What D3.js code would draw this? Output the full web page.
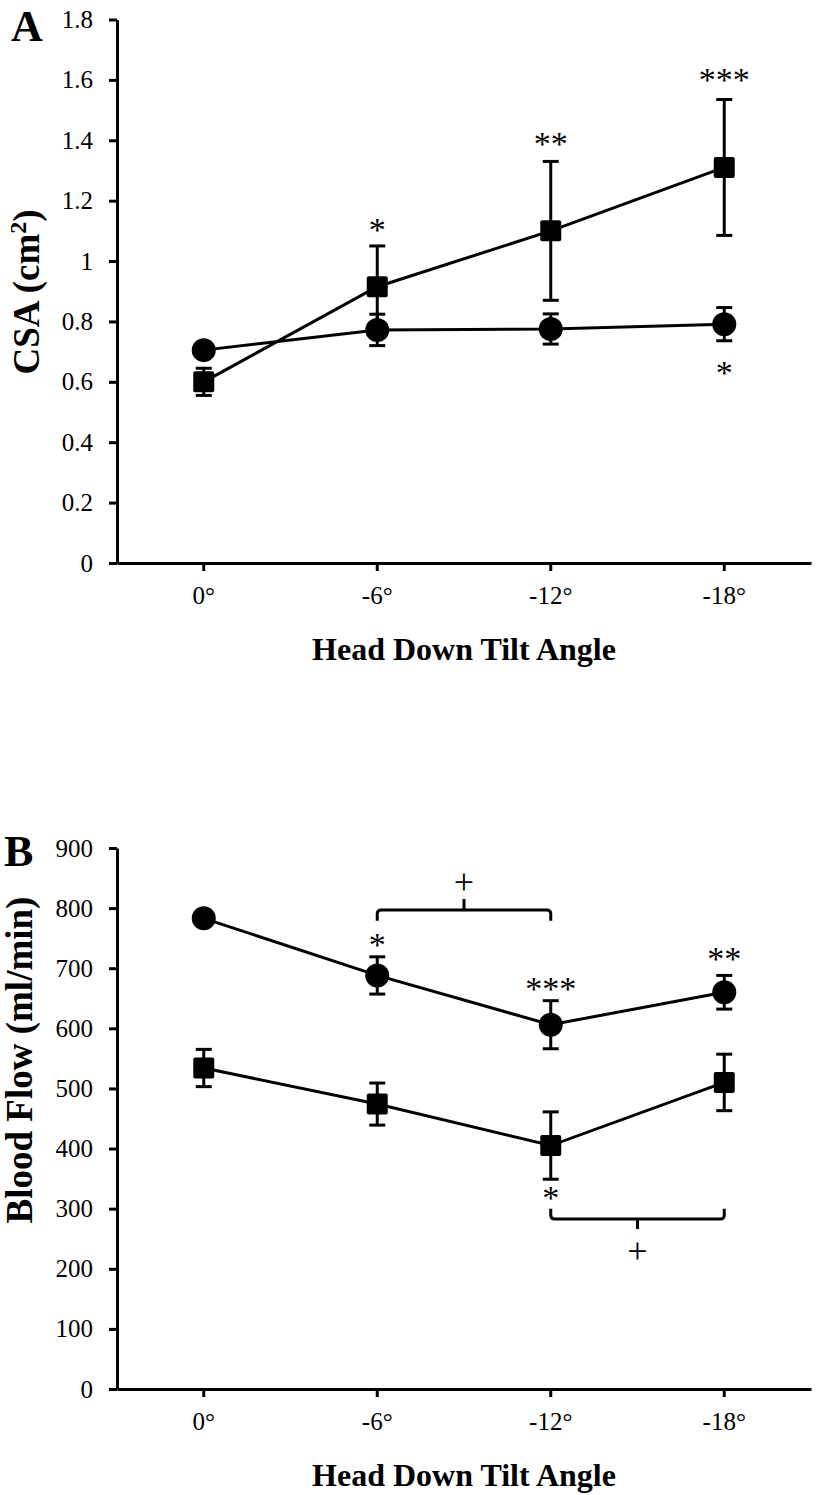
<!DOCTYPE html>
<html>
<head>
<meta charset="utf-8">
<script src="https://cdn.jsdelivr.net/npm/d3@7"></script>
<style>
  html, body { margin: 0; padding: 0; background: #fff; }
  svg { display: block; }
  text { font-family: "Liberation Serif", "Times New Roman", serif; fill: #000; }
</style>
</head>
<body>
<svg id="chart" width="817" height="1495"></svg>
<script>
// ---------------- DATA ----------------
const categories = ["0°", "-6°", "-12°", "-18°"];

// Panel A: CSA (cm²)
const csaSquare    = [0.60, 0.915, 1.10, 1.31];
const csaSquareErr = [0.045, 0.135, 0.23, 0.225];
const csaCircle    = [0.705, 0.772, 0.775, 0.791];
const csaCircleErr = [0.015, 0.052, 0.05, 0.055];
const csaTicks     = [0, 0.2, 0.4, 0.6, 0.8, 1, 1.2, 1.4, 1.6, 1.8];
const csaTickLabels = ["0", "0.2", "0.4", "0.6", "0.8", "1", "1.2", "1.4", "1.6", "1.8"];

// Panel B: Blood Flow (ml/min)
const flowCircle    = [783, 688, 606, 660];
const flowCircleErr = [8, 31, 40, 28];
const flowSquare    = [534, 474, 405, 510];
const flowSquareErr = [31, 35, 56, 47];
const flowTicks     = [0, 100, 200, 300, 400, 500, 600, 700, 800, 900];
const flowTickLabels = ["0", "100", "200", "300", "400", "500", "600", "700", "800", "900"];

// significance marks (category, value)
const csaStars  = [["-6°", 1.119, "*"], ["-12°", 1.404, "**"], ["-18°", 1.616, "***"], ["-18°", 0.646, "*"]];
const flowStars = [["-6°", 747, "*"], ["-12°", 674, "***"], ["-18°", 724, "**"], ["-12°", 326, "*"]];
// brackets: from category, to category, bar value, end value, tip value, plus value
const flowBrackets = [
  ["-6°", "-12°", 797, 779, 815, 838],
  ["-12°", "-18°", 283, 300, 266, 225]
];

// ---------------- DRAW ----------------
const svg = d3.select("#chart");

function drawPanel(cfg) {
  const g = svg.append("g");
  const x = d3.scaleBand().domain(categories).range([117, 811]).padding(0);
  const y = d3.scaleLinear().domain(cfg.domain).range(cfg.range);
  const cx = c => x(c) + x.bandwidth() / 2;

  // y axis
  const yAxis = d3.axisLeft(y).tickValues(cfg.ticks)
    .tickFormat((d, i) => cfg.tickLabels[i]).tickSize(8).tickSizeOuter(0).tickPadding(16);
  const ya = g.append("g").attr("transform", "translate(117,0)").call(yAxis);
  ya.select(".domain").attr("stroke-width", 3).attr("stroke", "#000");
  ya.selectAll(".tick line").attr("stroke-width", 3).attr("stroke", "#000");
  ya.selectAll(".tick text").attr("font-size", 25).attr("font-family", "Liberation Serif");

  // x axis
  const xAxis = d3.axisBottom(x).tickSize(8).tickSizeOuter(0).tickPadding(15);
  const xa = g.append("g").attr("transform", `translate(0,${cfg.range[0]})`).call(xAxis);
  xa.select(".domain").attr("stroke-width", 3).attr("stroke", "#000");
  xa.selectAll(".tick line").attr("stroke-width", 3).attr("stroke", "#000");
  xa.selectAll(".tick text").attr("font-size", 25).attr("font-family", "Liberation Serif");

  // titles
  g.append("text").attr("x", 464).attr("y", cfg.range[0] + 97)
    .attr("text-anchor", "middle").attr("font-size", 32).attr("font-weight", "bold")
    .text("Head Down Tilt Angle");
  const yt = g.append("text")
    .attr("transform", `translate(${cfg.yTitleX},${cfg.yTitleY}) rotate(-90)`)
    .attr("text-anchor", "middle").attr("font-size", 37).attr("font-weight", "bold");
  cfg.yTitle(yt);
  g.append("text").attr("x", cfg.letterX).attr("y", cfg.letterY)
    .attr("font-size", 44).attr("font-weight", "bold").text(cfg.letter);

  // series
  cfg.series.forEach(s => {
    const pts = categories.map((c, i) => ({ c, v: s.values[i], e: s.err[i] }));
    const eb = g.append("g").attr("stroke", "#000").attr("stroke-width", 3);
    pts.forEach(p => {
      eb.append("line").attr("x1", cx(p.c)).attr("x2", cx(p.c))
        .attr("y1", y(p.v - p.e)).attr("y2", y(p.v + p.e));
      [p.v - p.e, p.v + p.e].forEach(v => {
        eb.append("line").attr("x1", cx(p.c) - 8).attr("x2", cx(p.c) + 8)
          .attr("y1", y(v)).attr("y2", y(v));
      });
    });
    g.append("path").datum(pts)
      .attr("fill", "none").attr("stroke", "#000").attr("stroke-width", 3)
      .attr("d", d3.line().x(p => cx(p.c)).y(p => y(p.v)));
  });
  cfg.series.forEach(s => {
    const pts = categories.map((c, i) => ({ c, v: s.values[i] }));
    if (s.shape === "circle") {
      g.selectAll(null).data(pts).enter().append("circle")
        .attr("cx", p => cx(p.c)).attr("cy", p => y(p.v)).attr("r", 12).attr("fill", "#000");
    } else {
      g.selectAll(null).data(pts).enter().append("rect")
        .attr("x", p => cx(p.c) - 10.5).attr("y", p => y(p.v) - 10.5)
        .attr("width", 21).attr("height", 21).attr("rx", 2).attr("fill", "#000");
    }
  });

  // stars
  cfg.stars.forEach(([c, v, t]) => {
    g.append("text").attr("x", cx(c)).attr("y", y(v) + 16)
      .attr("text-anchor", "middle").attr("font-size", 34).text(t);
  });

  // brackets
  (cfg.brackets || []).forEach(([c1, c2, bar, end, tip, plus]) => {
    const x1 = cx(c1), x2 = cx(c2), xm = (x1 + x2) / 2;
    const yb = y(bar), ye = y(end), yt2 = y(tip);
    const dir = Math.sign(ye - yb);
    const r = 4;
    const p = d3.path();
    p.moveTo(x1, ye);
    p.lineTo(x1, yb + dir * r);
    p.quadraticCurveTo(x1, yb, x1 + r, yb);
    p.lineTo(x2 - r, yb);
    p.quadraticCurveTo(x2, yb, x2, yb + dir * r);
    p.lineTo(x2, ye);
    p.moveTo(xm, yb);
    p.lineTo(xm, yt2);
    g.append("path").attr("d", p.toString()).attr("fill", "none")
      .attr("stroke", "#000").attr("stroke-width", 3);
    g.append("text").attr("x", xm).attr("y", y(plus) + 9)
      .attr("text-anchor", "middle").attr("font-size", 36).text("+");
  });
}

drawPanel({
  domain: [0, 1.8], range: [563, 19.5],
  ticks: csaTicks, tickLabels: csaTickLabels,
  letter: "A", letterX: 11, letterY: 41,
  yTitleX: 39, yTitleY: 292,
  yTitle: t => { t.append("tspan").text("CSA (cm"); t.append("tspan").attr("font-size", 24).attr("dy", -13).text("2"); t.append("tspan").attr("dy", 13).text(")"); },
  series: [
    { values: csaSquare, err: csaSquareErr, shape: "square" },
    { values: csaCircle, err: csaCircleErr, shape: "circle" }
  ],
  stars: csaStars
});

drawPanel({
  domain: [0, 900], range: [1389, 848],
  ticks: flowTicks, tickLabels: flowTickLabels,
  letter: "B", letterX: 4, letterY: 866,
  yTitleX: 32, yTitleY: 1060,
  yTitle: t => t.text("Blood Flow (ml/min)"),
  series: [
    { values: flowCircle, err: flowCircleErr, shape: "circle" },
    { values: flowSquare, err: flowSquareErr, shape: "square" }
  ],
  stars: flowStars,
  brackets: flowBrackets
});
</script>
</body>
</html>
